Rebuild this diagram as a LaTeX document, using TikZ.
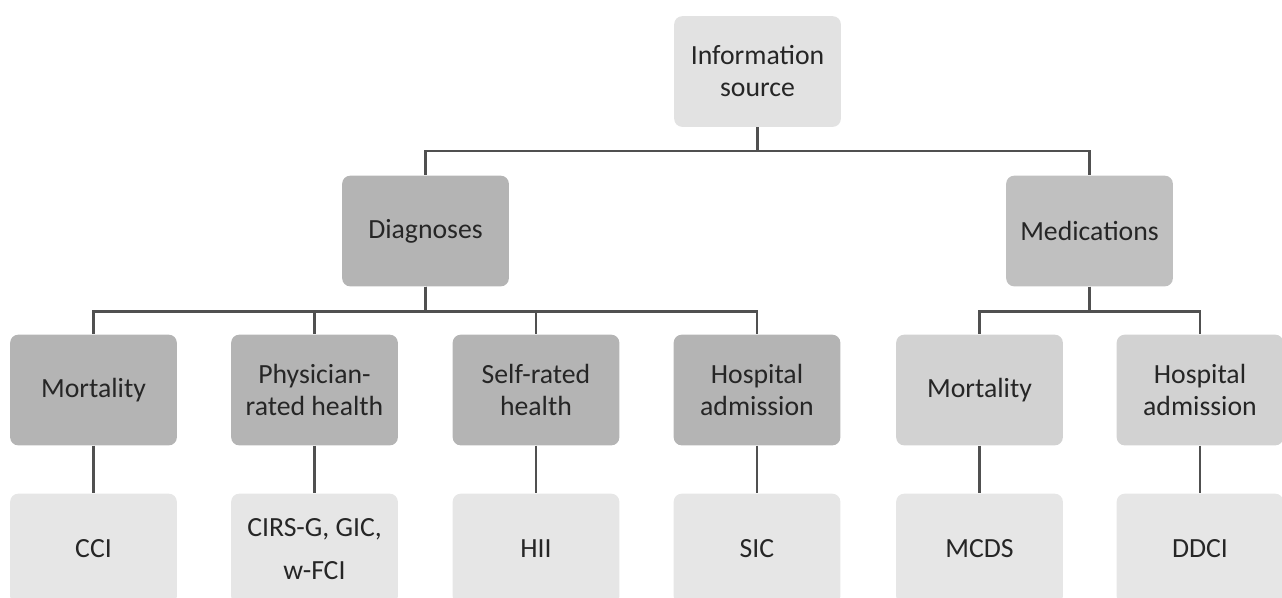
\documentclass[tikz,border=0pt]{standalone}
\usepackage{fontspec}
\setmainfont{Carlito}
\definecolor{cTop}{HTML}{E2E2E2}
\definecolor{cDiag}{HTML}{B4B4B4}
\definecolor{cMed}{HTML}{C0C0C0}
\definecolor{cMedKid}{HTML}{D2D2D2}
\definecolor{cLeaf}{HTML}{E6E6E6}
\definecolor{cLine}{HTML}{505050}
\begin{document}
\begin{tikzpicture}[x=0.75pt,y=-0.75pt,
  box/.style={rounded corners=6pt, minimum width=125pt, minimum height=83pt,
    align=center, inner sep=0pt, text=black!85,
    font=\fontsize{20.8pt}{24pt}\selectfont},
  conn/.style={draw=cLine, line width=1.9pt}]
\useasboundingbox (0,0) rectangle (1282,597);
\node[box, fill=cTop] (info) at (757.5,71.5) {Information\\source};
\node[box, fill=cDiag] (diag) at (425.5,231) {Diagnoses};
\node[box, fill=cMed] (med) at (1089.5,231) {Medications};
\node[box, fill=cDiag] (mort1) at (93.5,390) {Mortality};
\node[box, fill=cDiag] (phys) at (314.5,390) {Physician-\\rated health};
\node[box, fill=cDiag] (self) at (536,390) {Self-rated\\health};
\node[box, fill=cDiag] (hosp1) at (757,390) {Hospital\\admission};
\node[box, fill=cMedKid] (mort2) at (979.5,390) {Mortality};
\node[box, fill=cMedKid] (hosp2) at (1200,390) {Hospital\\admission};
\node[box, fill=cLeaf] (cci) at (93.5,549) {CCI};
\node[box, fill=cLeaf] (cirs) at (314.5,549) {CIRS-G, GIC,\\[8pt]w-FCI};
\node[box, fill=cLeaf] (hii) at (536,549) {HII};
\node[box, fill=cLeaf] (sic) at (757,549) {SIC};
\node[box, fill=cLeaf] (mcds) at (979.5,549) {MCDS};
\node[box, fill=cLeaf] (ddci) at (1200,549) {DDCI};
\draw[conn] (info.south) -- ++(0,24) -| (diag.north);
\draw[conn] (info.south) -- ++(0,24) -| (med.north);
\foreach \k in {mort1,phys,self,hosp1}
  \draw[conn] (diag.south) -- ++(0,25) -| (\k.north);
\foreach \k in {mort2,hosp2}
  \draw[conn] (med.south) -- ++(0,25) -| (\k.north);
\draw[conn] (mort1.south) -- (cci.north);
\draw[conn] (phys.south) -- (cirs.north);
\draw[conn] (self.south) -- (hii.north);
\draw[conn] (hosp1.south) -- (sic.north);
\draw[conn] (mort2.south) -- (mcds.north);
\draw[conn] (hosp2.south) -- (ddci.north);
\end{tikzpicture}
\end{document}
